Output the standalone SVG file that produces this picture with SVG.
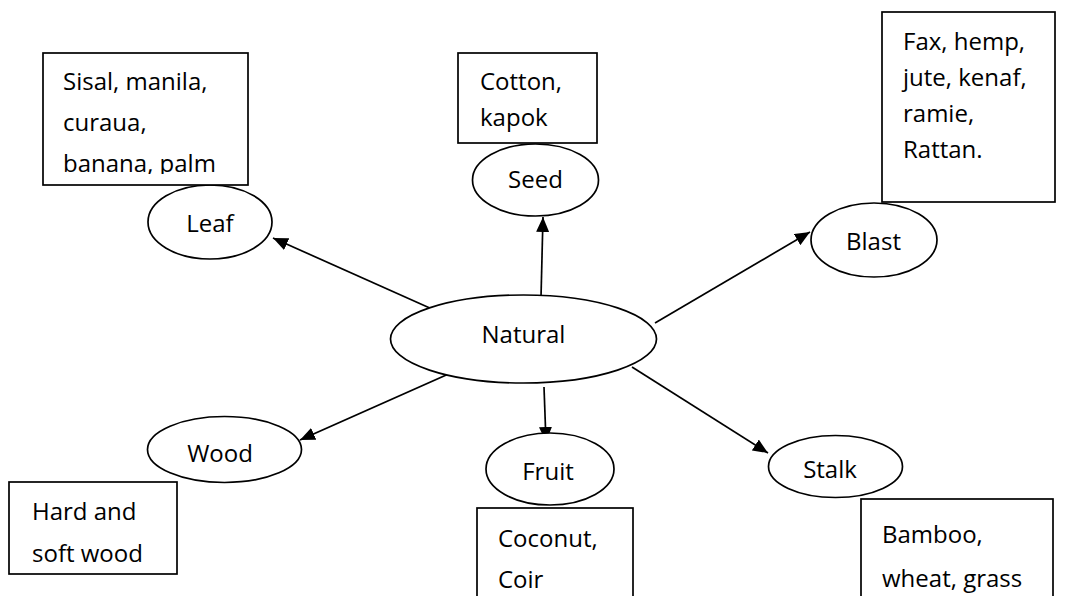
<svg xmlns="http://www.w3.org/2000/svg" width="1068" height="596" viewBox="0 0 1068 596">
<style>
.shape{fill:#fff;stroke:#000;stroke-width:1.7}
.t{font-family:"Open Sans","Liberation Sans",sans-serif;font-size:24px;fill:#000}
.m{text-anchor:middle}
.c{stroke:#000;stroke-width:1.7;fill:none;marker-end:url(#ah)}
</style>
<defs>
<marker id="ah" viewBox="0 0 15 13" refX="15" refY="6.5" markerWidth="15" markerHeight="13" markerUnits="userSpaceOnUse" orient="auto">
<path d="M0,0 L15,6.5 L0,13 z" fill="#000"/>
</marker>
<clipPath id="leafclip"><rect x="43" y="53" width="205" height="121"/></clipPath>
</defs>
<rect width="1068" height="596" fill="#fff"/>
<g id="connectors">
<line class="c" x1="432" y1="309" x2="273" y2="238"/>
<line class="c" x1="541" y1="297" x2="543" y2="217"/>
<line class="c" x1="655" y1="323" x2="810" y2="232"/>
<line class="c" x1="453" y1="372" x2="300" y2="440"/>
<line class="c" x1="544" y1="387" x2="546" y2="442"/>
<line class="c" x1="632" y1="367" x2="768" y2="453"/>
</g>
<g id="natural">
<ellipse class="shape" cx="523.5" cy="339" rx="133" ry="44"/>
<text class="t m" x="523.5" y="343">Natural</text>
</g>
<g id="leaf">
<ellipse class="shape" cx="210" cy="222" rx="62" ry="37"/>
<text class="t m" x="210" y="232">Leaf</text>
</g>
<g id="leaf-box">
<rect class="shape" x="43" y="53" width="205" height="132"/>
<g clip-path="url(#leafclip)">
<text class="t" x="63" y="90">Sisal, manila,</text>
<text class="t" x="63" y="131">curaua,</text>
<text class="t" x="63" y="172">banana, palm</text>
</g>
</g>
<g id="seed">
<ellipse class="shape" cx="535.5" cy="180" rx="63" ry="36"/>
<text class="t m" x="535.5" y="188">Seed</text>
</g>
<g id="seed-box">
<rect class="shape" x="458" y="53" width="139" height="90"/>
<text class="t" x="480" y="90">Cotton,</text>
<text class="t" x="480" y="126">kapok</text>
</g>
<g id="blast">
<ellipse class="shape" cx="874" cy="240" rx="63" ry="37"/>
<text class="t m" x="873.5" y="250">Blast</text>
</g>
<g id="blast-box">
<rect class="shape" x="882" y="12" width="173" height="190"/>
<text class="t" x="903" y="50">Fax, hemp,</text>
<text class="t" x="903" y="86">jute, kenaf,</text>
<text class="t" x="903" y="122">ramie,</text>
<text class="t" x="903" y="158">Rattan.</text>
</g>
<g id="wood">
<ellipse class="shape" cx="224.5" cy="449.5" rx="77" ry="33"/>
<text class="t m" x="220" y="462">Wood</text>
</g>
<g id="wood-box">
<rect class="shape" x="9" y="482" width="168" height="92"/>
<text class="t" x="32" y="520">Hard and</text>
<text class="t" x="32" y="562">soft wood</text>
</g>
<g id="fruit">
<ellipse class="shape" cx="550" cy="469" rx="64" ry="36"/>
<text class="t m" x="548" y="480">Fruit</text>
</g>
<g id="fruit-box">
<rect class="shape" x="477" y="508" width="156" height="100"/>
<text class="t" x="498" y="547">Coconut,</text>
<text class="t" x="498" y="588">Coir</text>
</g>
<g id="stalk">
<ellipse class="shape" cx="835.5" cy="466.5" rx="67" ry="31"/>
<text class="t m" x="830" y="478">Stalk</text>
</g>
<g id="stalk-box">
<rect class="shape" x="861" y="499" width="192" height="110"/>
<text class="t" x="882" y="543">Bamboo,</text>
<text class="t" x="882" y="587">wheat, grass</text>
</g>
</svg>
